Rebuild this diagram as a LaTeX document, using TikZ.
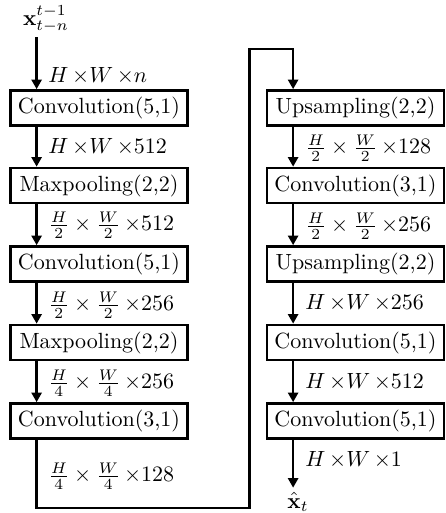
\documentclass[tikz,border=0pt]{standalone}
\usepackage{amsmath}
\usetikzlibrary{arrows.meta,calc}
\begin{document}
\begin{tikzpicture}[x=0.4545pt,y=-0.4545pt,
  blk/.style={draw,line width=1.1pt,minimum width=80.6pt,minimum height=16pt,inner sep=0pt},
  conn/.style={line width=1.1pt,-{Triangle[length=4.4pt,width=4.6pt]}},
  lab/.style={anchor=west,inner sep=0pt},
  io/.style={inner sep=2pt}]
\useasboundingbox (0,0) rectangle (446,513);
% left column
\node[blk] (l1) at (99,108) {Convolution(5,1)};
\node[blk] (l2) at (99,185.5) {Maxpooling(2,2)};
\node[blk] (l3) at (99,264) {Convolution(5,1)};
\node[blk] (l4) at (99,342.5) {Maxpooling(2,2)};
\node[blk] (l5) at (99,421) {Convolution(3,1)};
% right column
\node[blk] (r1) at (355.5,108) {Upsampling(2,2)};
\node[blk] (r2) at (355.5,185.5) {Convolution(3,1)};
\node[blk] (r3) at (355.5,264) {Upsampling(2,2)};
\node[blk] (r4) at (355.5,342.5) {Convolution(5,1)};
\node[blk] (r5) at (355.5,421) {Convolution(5,1)};
% input / output
\node[io] (in) at (46,19) {$\mathbf{x}_{t-n}^{t-1}$};
\node[io] (out) at (298,502) {$\hat{\mathbf{x}}_t$};
% attachment points
\foreach \n in {l1,l2,l3,l4,l5,r1,r2,r3,r4,r5}{
  \coordinate (\n n) at ($(\n.north west)+(27.5,0)$);
  \coordinate (\n s) at ($(\n.south west)+(27.5,0)$);
}
\coordinate (c1) at (249.5,508);
\coordinate (c2) at (249.5,49);
% connectors
\draw[conn] (in.south -| l1n) -- (l1n);
\draw[conn] (l1s) -- (l2n);
\draw[conn] (l2s) -- (l3n);
\draw[conn] (l3s) -- (l4n);
\draw[conn] (l4s) -- (l5n);
\draw[conn] (l5s) |- (c1) -- (c2) -| (r1n);
\draw[conn] (r1s) -- (r2n);
\draw[conn] (r2s) -- (r3n);
\draw[conn] (r3s) -- (r4n);
\draw[conn] (r4s) -- (r5n);
\draw[conn] (r5s) -- (out.north -| r5s);
% labels
\node[lab] at (48,76) {$H\,{\times}W\,{\times}n$};
\node[lab] at (48,147) {$H\,{\times}W\,{\times}512$};
\node[lab] at (48,225) {$\frac{H}{2}\times\frac{W}{2}\,{\times}512$};
\node[lab] at (48,305) {$\frac{H}{2}\times\frac{W}{2}\,{\times}256$};
\node[lab] at (48,383) {$\frac{H}{4}\times\frac{W}{4}\,{\times}256$};
\node[lab] at (48,476) {$\frac{H}{4}\times\frac{W}{4}\,{\times}128$};
\node[lab] at (305,148) {$\frac{H}{2}\times\frac{W}{2}\,{\times}128$};
\node[lab] at (305,226) {$\frac{H}{2}\times\frac{W}{2}\,{\times}256$};
\node[lab] at (305,303) {$H\,{\times}W\,{\times}256$};
\node[lab] at (305,382) {$H\,{\times}W\,{\times}512$};
\node[lab] at (305,460) {$H\,{\times}W\,{\times}1$};
\end{tikzpicture}
\end{document}
